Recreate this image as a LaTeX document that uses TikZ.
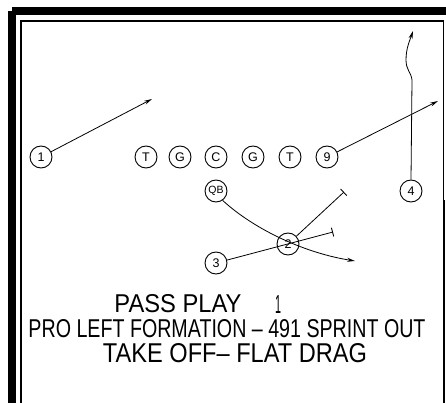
\documentclass[tikz,border=0pt]{standalone}
\usepackage{fontspec}
\setmainfont{Liberation Sans}
\usetikzlibrary{arrows.meta}
\begin{document}
\begin{tikzpicture}[x=1pt,y=-1pt,
  player/.style={circle,draw,line width=0.9pt,minimum size=22pt,inner sep=0pt,font=\fontsize{12.5}{12.5}\selectfont},
  route/.style={line width=0.8pt},
  arr/.style={route,-{Stealth[length=8pt,width=4pt]}},
  blockend/.style={route,-{Bar[width=9pt,line width=0.9pt]}},
  lettering/.style={inner sep=0pt}]
\useasboundingbox (0,0) rectangle (446,403);
\fill[white] (0,0) rectangle (446,403);
% frame
\draw[line width=7.5pt] (11.8,11) -- (460,11);
\draw[line width=7.5pt] (11.8,11) -- (11.8,420);
\draw[line width=1.4pt] (21,420) -- (21,21) -- (443.5,21) -- (443.5,420);
\draw[line width=1.6pt] (444.5,200) -- (444.5,420);
% players
\node[player] (n1) at (41,157) {1};
\node[player] (lt) at (146,157) {T};
\node[player] (lg) at (180,157) {G};
\node[player] (c) at (216,157) {C};
\node[player] (rg) at (253,157) {G};
\node[player] (rt) at (290,157) {T};
\node[player] (n9) at (327,157) {9};
\node[player] (qb) at (216,191) {\fontsize{10.5}{10.5}\selectfont QB};
\node[player] (n4) at (411,191) {4};
\node[player] (n2) at (288,244) {2};
\node[player] (n3) at (216,263) {3};
% route end points
\coordinate (e1) at (152,99);
\coordinate (e9) at (438,101);
\coordinate (k4) at (412,80);
\coordinate (m4) at (406,60);
\coordinate (e4) at (413,31);
\coordinate (tb1) at (344,192);
\coordinate (tb2) at (333,232);
\coordinate (eqb) at (355,261);
% routes
\draw[arr] (n1) -- (e1);
\draw[arr] (n9) -- (e9);
\draw[arr] (n4.north) -- (k4) .. controls (411,72) and (406,70) .. (m4) .. controls (406,48) and (410,40) .. (e4);
\draw[arr] (qb.-55) .. controls (255,230) and (305,253) .. (eqb);
\draw[blockend] (n3) -- (tb2);
\draw[blockend] (n2) -- (tb1);
% text
\node[lettering] (t1) at (178,304) {\resizebox{127pt}{18pt}{PASS PLAY}};
\node[lettering] (t1n) at (278,304) {\resizebox{6pt}{18pt}{1}};
\node[lettering] (t2) at (227,329) {\resizebox{397pt}{18pt}{PRO LEFT FORMATION -- 491 SPRINT OUT}};
\node[lettering] (t3) at (235,353) {\resizebox{264pt}{19pt}{TAKE OFF-- FLAT DRAG}};
\end{tikzpicture}
\end{document}
